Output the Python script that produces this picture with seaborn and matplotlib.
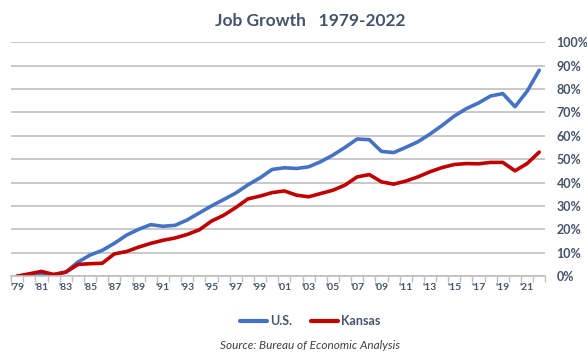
import numpy as np
import pandas as pd
import matplotlib
matplotlib.use("Agg")
import matplotlib.pyplot as plt
import seaborn as sns

years = list(range(1979, 2023))
us = [0, 0.5, 1.0, 0.6, 1.7, 6.0, 9.0, 11.0, 14.0, 17.5, 20.0, 22.0, 21.3, 21.7,
      24.0, 27.0, 30.0, 32.7, 35.5, 39.0, 42.0, 45.6, 46.3, 46.0, 46.7, 48.9,
      51.7, 55.0, 58.6, 58.3, 53.3, 52.8, 55.0, 57.4, 60.7, 64.4, 68.4, 71.6,
      74.0, 77.0, 78.0, 72.4, 79.0, 88.0]
kansas = [0, 1.0, 2.0, 0.7, 1.7, 5.0, 5.3, 5.5, 9.5, 10.5, 12.4, 14.0, 15.3, 16.3,
          17.8, 19.8, 23.5, 26.0, 29.3, 33.0, 34.2, 35.7, 36.4, 34.6, 33.9, 35.3,
          36.7, 38.9, 42.4, 43.4, 40.3, 39.3, 40.6, 42.4, 44.6, 46.4, 47.7, 48.1,
          48.0, 48.6, 48.6, 45.0, 48.1, 53.0]
series_names = ["U.S.", "Kansas"]
colors = ["#4472C4", "#C00000"]
title = "Job Growth   1979-2022"
source = "Source: Bureau of Economic Analysis"

df = pd.DataFrame({
    "idx": list(range(len(years))) * 2,
    "value": us + kansas,
    "series": [series_names[0]] * len(years) + [series_names[1]] * len(years),
})

sns.set_theme(style="white")
plt.rcParams["font.family"] = ["Lato", "DejaVu Sans"]
text_col = "#44546A"

fig = plt.figure(figsize=(5.87, 3.54), dpi=100)
ax = fig.add_axes([0.019, 0.220, 0.910, 0.661])

sns.lineplot(data=df, x="idx", y="value", hue="series", palette=colors,
             linewidth=2.6, ax=ax, legend=False)

ax.set_xlim(-0.25, len(years) - 1 + 0.25)
ax.set_ylim(0, 100)
ax.set_yticks(np.arange(0, 101, 10))
ax.set_yticklabels([f"{v}%" for v in range(0, 101, 10)])
ax.yaxis.tick_right()
ax.grid(axis="y", color="#BFBFBF", linewidth=1.2)
ax.set_axisbelow(True)
for s in ["top", "left", "right"]:
    ax.spines[s].set_visible(False)
ax.spines["bottom"].set_color("#BFBFBF")
ax.spines["bottom"].set_linewidth(1.2)

ax.set_xticks(range(0, len(years), 2))
ax.set_xticklabels([f"'{str(y)[2:]}" for y in years[::2]])
ax.set_xticks(np.arange(-0.5, len(years), 1), minor=True)
ax.tick_params(axis="x", which="both", bottom=True, length=0, colors=text_col,
               labelsize=7.5, pad=5)
ax.tick_params(axis="x", which="minor", length=4, color="#BFBFBF", width=1)
ax.tick_params(axis="y", length=0, labelsize=9, colors=text_col, pad=8)
for lab in ax.get_xticklabels() + ax.get_yticklabels():
    lab.set_fontweight("bold")
ax.set_xlabel("")
ax.set_ylabel("")

fig.text(0.528, 0.94, title, ha="center", va="center", fontsize=12.5,
         fontweight="bold", color=text_col)

from matplotlib.lines import Line2D
handles = [Line2D([0], [0], color=c, linewidth=3) for c in colors]
leg = fig.legend(handles, series_names, loc="center", bbox_to_anchor=(0.528, 0.093),
                 ncol=2, frameon=False, fontsize=9, handlelength=2.2,
                 handletextpad=0.2, columnspacing=1.5)
for t in leg.get_texts():
    t.set_color(text_col)
    t.set_fontweight("bold")

fig.text(0.528, 0.025, source, ha="center", va="center", fontsize=8.5,
         style="italic", color="#404040")

fig.savefig("out.png", dpi=100)
